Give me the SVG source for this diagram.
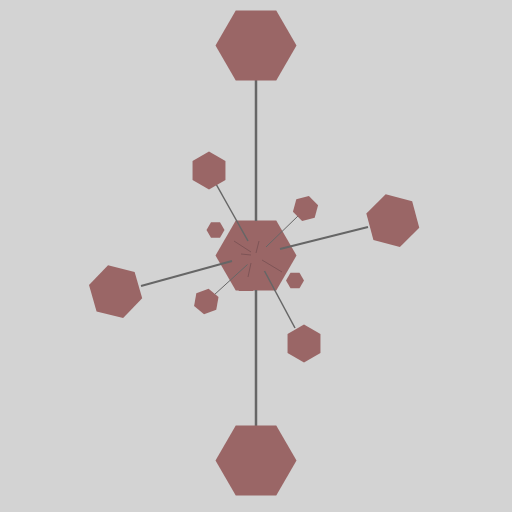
<svg xmlns="http://www.w3.org/2000/svg" xmlns:xlink="http://www.w3.org/1999/xlink" width="512" height="512" viewBox="0 0 512 512">
<style>
.node{fill:#9a6666}
.edge{stroke:#666666;fill:none;stroke-linecap:butt}
.inner{stroke:#7e5456;fill:none;stroke-width:1}
</style>
<defs>
<polygon id="hex" points="1,0 0.5,0.866 -0.5,0.866 -1,0 -0.5,-0.866 0.5,-0.866"/>
</defs>
<rect width="512" height="512" fill="#d3d3d3"/>
<g id="nodes-hidden">
<use xlink:href="#hex" class="node" transform="translate(262,234) scale(15)"/>
<use xlink:href="#hex" class="node" transform="translate(246,279) scale(14)"/>
</g>
<g id="node-center"><use xlink:href="#hex" class="node" transform="translate(256,255.5) scale(40.5)"/></g>
<g id="connectors">
<line class="edge" x1="256" y1="80" x2="256" y2="221" stroke-width="2.5"/>
<line class="edge" x1="256" y1="290" x2="256" y2="426" stroke-width="2.5"/>
<line class="edge" x1="280" y1="249" x2="368" y2="227" stroke-width="2"/>
<line class="edge" x1="232" y1="261" x2="141" y2="286" stroke-width="2"/>
<line class="edge" x1="248" y1="241" x2="216" y2="184" stroke-width="1.5"/>
<line class="edge" x1="266" y1="247" x2="299" y2="215" stroke-width="1"/>
<line class="edge" x1="247.5" y1="264.5" x2="214" y2="295" stroke-width="1"/>
<line class="edge" x1="264.5" y1="271" x2="295" y2="328" stroke-width="1.5"/>
<line class="inner" x1="259" y1="241" x2="256" y2="253"/>
<line class="inner" x1="251" y1="263" x2="248" y2="277"/>
<line class="inner" x1="234" y1="241" x2="251" y2="252"/>
<line class="inner" x1="262" y1="260" x2="282" y2="272"/>
<line class="inner" x1="241" y1="254" x2="251" y2="255"/>
</g>
<g id="node-top"><use xlink:href="#hex" class="node" transform="translate(256,45.5) scale(40.5)"/></g>
<g id="node-bottom"><use xlink:href="#hex" class="node" transform="translate(256,460.5) scale(40.5)"/></g>
<g id="node-right"><use xlink:href="#hex" class="node" transform="translate(392.8,220.6) rotate(15) scale(27.4)"/></g>
<g id="node-left"><use xlink:href="#hex" class="node" transform="translate(115.6,291.7) rotate(14) scale(27.4)"/></g>
<g id="node-upper-left"><use xlink:href="#hex" class="node" transform="translate(209,170.5) rotate(30) scale(19)"/></g>
<g id="node-upper-right"><use xlink:href="#hex" class="node" transform="translate(305.5,208.5) rotate(45) scale(13)"/></g>
<g id="node-small-left"><use xlink:href="#hex" class="node" transform="translate(215.5,230) scale(9)"/></g>
<g id="node-lower-left"><use xlink:href="#hex" class="node" transform="translate(206.3,301.5) rotate(40) scale(13)"/></g>
<g id="node-small-right"><use xlink:href="#hex" class="node" transform="translate(295,280.5) scale(9)"/></g>
<g id="node-lower-right"><use xlink:href="#hex" class="node" transform="translate(304,343.5) rotate(30) scale(19)"/></g>
</svg>
